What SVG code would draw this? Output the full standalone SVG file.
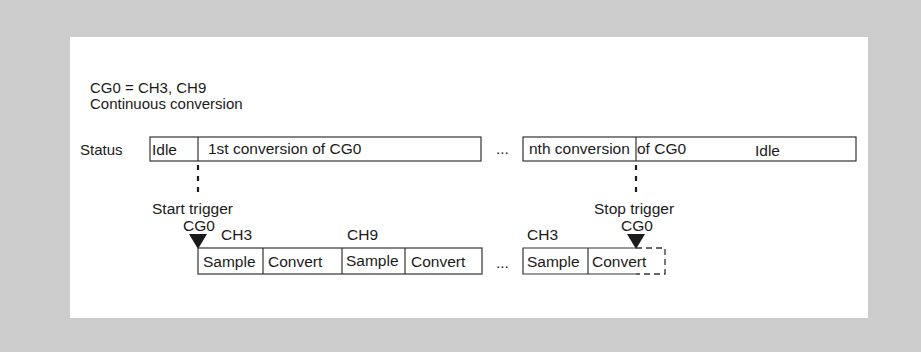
<svg xmlns="http://www.w3.org/2000/svg" width="921" height="352" viewBox="0 0 921 352">
<style>
text{font-family:"Liberation Sans",Arial,sans-serif;font-size:15.5px;fill:#1a1a1a}
.sm{font-size:15px}
.box{fill:#fff;stroke:#333;stroke-width:1.2}
.ln{stroke:#333;stroke-width:1.2;fill:none}
.dash{stroke:#1a1a1a;stroke-width:2.2;stroke-dasharray:5,6;fill:none}
.dbox{stroke:#333;stroke-width:1.3;stroke-dasharray:6,4;fill:none}
.tri{fill:#1a1a1a}
</style>
<rect x="0" y="0" width="921" height="352" fill="#cccccc"/>
<rect x="70" y="37" width="798" height="281" fill="#ffffff"/>
<g id="header">
<text class="sm" x="90" y="93">CG0 = CH3, CH9</text>
<text class="sm" x="90" y="109">Continuous conversion</text>
</g>
<g id="status">
<text class="sm" x="80" y="155">Status</text>
<rect class="box" x="150" y="137" width="331" height="24"/>
<line class="ln" x1="198" y1="137" x2="198" y2="161"/>
<text x="152" y="155">Idle</text>
<text x="208" y="154">1st conversion of CG0</text>
<text x="496" y="154">...</text>
<rect class="box" x="523" y="137" width="333" height="24"/>
<line class="ln" x1="636" y1="137" x2="636" y2="161"/>
<text x="529" y="154">nth conversion</text>
<text x="637" y="154">of CG0</text>
<text x="755" y="156">Idle</text>
</g>
<g id="connectors">
<line class="dash" x1="198" y1="165" x2="198" y2="192"/>
<line class="dash" x1="636" y1="165" x2="636" y2="192"/>
</g>
<g id="start-trigger">
<text x="152" y="214">Start trigger</text>
<text x="183" y="231">CG0</text>
<polygon class="tri" points="189,234 207,234 198,249"/>
</g>
<g id="stop-trigger">
<text x="594" y="214">Stop trigger</text>
<text x="621" y="231">CG0</text>
<polygon class="tri" points="627,234 645,234 636,249"/>
</g>
<g id="sequence1">
<text x="221" y="240">CH3</text>
<text x="347" y="240">CH9</text>
<rect class="box" x="198" y="248" width="284" height="26"/>
<line class="ln" x1="263" y1="248" x2="263" y2="274"/>
<line class="ln" x1="342" y1="248" x2="342" y2="274"/>
<line class="ln" x1="405" y1="248" x2="405" y2="274"/>
<text x="203" y="267">Sample</text>
<text x="268" y="267">Convert</text>
<text x="346" y="266">Sample</text>
<text x="411" y="267">Convert</text>
<text x="496" y="268">...</text>
</g>
<g id="sequence2">
<text x="527" y="240">CH3</text>
<path class="ln" d="M636,248 H523 V274 H636"/>
<line class="ln" x1="588" y1="248" x2="588" y2="274"/>
<path class="dbox" d="M636,248 H665 V274 H636"/>
<text x="527" y="267">Sample</text>
<text x="592" y="267">Convert</text>
</g>
</svg>
